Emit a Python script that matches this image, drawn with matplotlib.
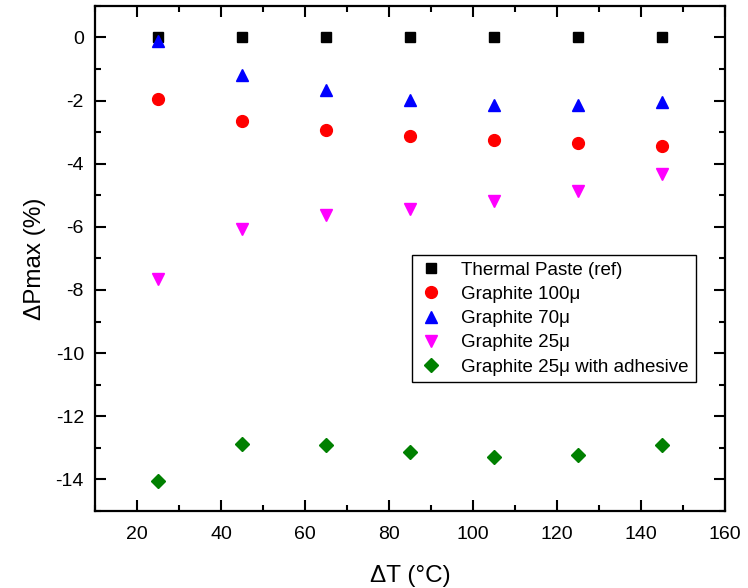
import matplotlib.pyplot as plt
from matplotlib.ticker import MultipleLocator

plt.rcParams['font.family'] = ['Liberation Sans', 'DejaVu Sans']
plt.rcParams['axes.unicode_minus'] = False

dT = [25, 45, 65, 85, 105, 125, 145]

paste_ref = [0, 0, 0, 0, 0, 0, 0]
graphite_100 = [-1.94, -2.65, -2.94, -3.11, -3.24, -3.33, -3.44]
graphite_70 = [-0.12, -1.18, -1.68, -1.97, -2.13, -2.15, -2.04]
graphite_25 = [-7.65, -6.06, -5.64, -5.43, -5.19, -4.85, -4.31]
graphite_25_adh = [-14.06, -12.88, -12.92, -13.14, -13.29, -13.24, -12.90]

labels = ["Thermal Paste (ref)", "Graphite 100\u03bc", "Graphite 70\u03bc",
          "Graphite 25\u03bc", "Graphite 25\u03bc with adhesive"]

fig = plt.figure(figsize=(7.48, 5.88), dpi=100)
ax = fig.add_axes([0.127, 0.131, 0.842, 0.859])

ax.plot(dT, paste_ref, 's', color='black', ms=7, ls='none', label=labels[0])
ax.plot(dT, graphite_100, 'o', color='red', ms=8.5, ls='none', label=labels[1])
ax.plot(dT, graphite_70, '^', color='blue', ms=8.5, ls='none', label=labels[2])
ax.plot(dT, graphite_25, 'v', color='magenta', ms=8.5, ls='none', label=labels[3])
ax.plot(dT, graphite_25_adh, 'D', color='green', ms=7, ls='none', label=labels[4])

ax.set_xlim(10, 160)
ax.set_ylim(-15, 1)
ax.xaxis.set_major_locator(MultipleLocator(20))
ax.xaxis.set_minor_locator(MultipleLocator(10))
ax.yaxis.set_major_locator(MultipleLocator(2))
ax.yaxis.set_minor_locator(MultipleLocator(1))
ax.tick_params(which='both', direction='in', top=True, right=True, width=1.5, labelsize=14)
ax.tick_params(which='major', length=8)
ax.tick_params(which='minor', length=4.5)
ax.tick_params(axis='x', which='major', pad=11)
ax.tick_params(axis='y', which='major', pad=8)
for s in ax.spines.values():
    s.set_linewidth(1.6)

ax.set_xlabel('\u0394T (\u00b0C)', fontsize=17.5, labelpad=16)
ax.set_ylabel('\u0394Pmax (%)', fontsize=17.5, labelpad=7)

leg = ax.legend(loc='upper left', bbox_to_anchor=(0.503, 0.507), borderaxespad=0,
                fontsize=13.5, frameon=True, fancybox=False, edgecolor='black',
                framealpha=1, handletextpad=0.9, borderpad=0.35, labelspacing=0.38,
                handlelength=1.4)
leg.get_frame().set_linewidth(1.0)

fig.savefig('out.png', dpi=100)
